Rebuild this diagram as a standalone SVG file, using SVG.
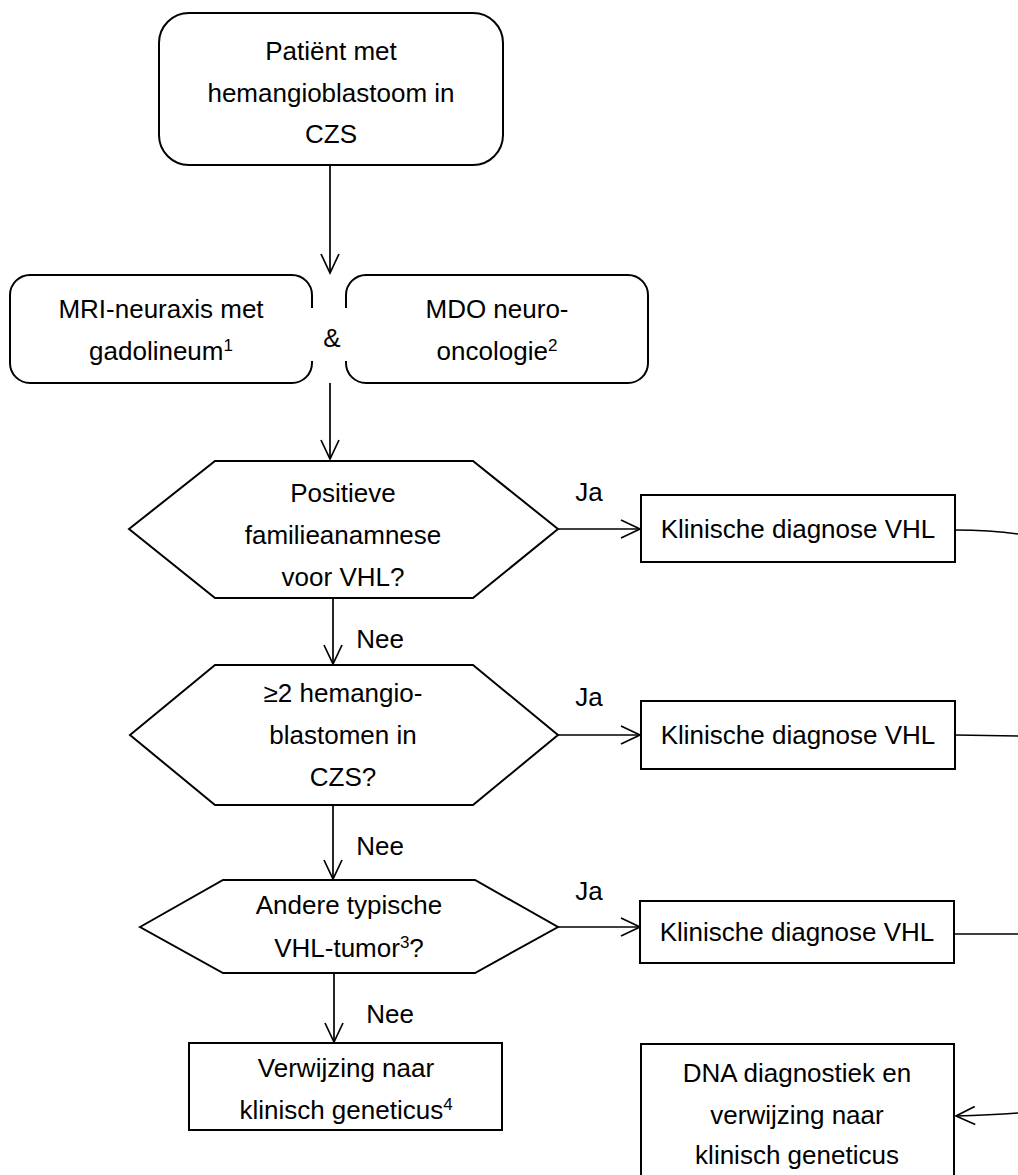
<svg xmlns="http://www.w3.org/2000/svg" width="1018" height="1175" viewBox="0 0 1018 1175">
<style>
text{font-family:"Liberation Sans",Arial,sans-serif;font-size:26px;fill:#000;text-anchor:middle}
.b{fill:#fff;stroke:#000;stroke-width:2}
.c{fill:none;stroke:#000;stroke-width:1.7}
.sup{font-size:17px}
</style>
<defs>
<marker id="ah" viewBox="0 0 24 24" refX="22" refY="12" markerWidth="24" markerHeight="24" markerUnits="userSpaceOnUse" orient="auto">
<path d="M3,3 L22,12 L3,21" fill="none" stroke="#000" stroke-width="1.7"/>
</marker>
</defs>
<rect width="1018" height="1175" fill="#fff"/>
<g id="connectors">
<line class="c" x1="330" y1="165" x2="330" y2="273" marker-end="url(#ah)"/>
<line class="c" x1="330" y1="383" x2="330" y2="459" marker-end="url(#ah)"/>
<line class="c" x1="558" y1="529" x2="640" y2="529" marker-end="url(#ah)"/>
<line class="c" x1="333" y1="598" x2="333" y2="664" marker-end="url(#ah)"/>
<line class="c" x1="558" y1="735" x2="640" y2="735" marker-end="url(#ah)"/>
<line class="c" x1="333" y1="805" x2="333" y2="879" marker-end="url(#ah)"/>
<line class="c" x1="558" y1="927" x2="640" y2="927" marker-end="url(#ah)"/>
<line class="c" x1="334" y1="973" x2="334" y2="1042" marker-end="url(#ah)"/>
<path class="c" d="M955,530 Q990,530 1018,534"/>
<line class="c" x1="955" y1="735" x2="1018" y2="736"/>
<line class="c" x1="954" y1="934" x2="1018" y2="934"/>
<path class="c" d="M1018,1113 Q990,1115 956,1116" marker-end="url(#ah)"/>
<text x="589" y="501">Ja</text>
<text x="589" y="706">Ja</text>
<text x="589" y="900">Ja</text>
<text x="380" y="648">Nee</text>
<text x="380" y="855">Nee</text>
<text x="390" y="1023">Nee</text>
</g>
<g id="start">
<rect class="b" x="159" y="13" width="344" height="152" rx="30"/>
<text x="331" y="60">Patiënt met</text>
<text x="331" y="102">hemangioblastoom in</text>
<text x="331" y="143">CZS</text>
</g>
<g id="mri">
<path class="b" d="M312,308 L312,295 A20,20 0 0 0 292,275 L30,275 A20,20 0 0 0 10,295 L10,363 A20,20 0 0 0 30,383 L292,383 A20,20 0 0 0 312,363 L312,361" fill="none"/>
<text x="161" y="318">MRI-neuraxis met</text>
<text x="161" y="360">gadolineum<tspan class="sup" dy="-9">1</tspan></text>
</g>
<text id="and" x="332" y="347">&amp;</text>
<g id="mdo">
<path class="b" d="M346,308 L346,295 A20,20 0 0 1 366,275 L628,275 A20,20 0 0 1 648,295 L648,363 A20,20 0 0 1 628,383 L366,383 A20,20 0 0 1 346,363 L346,361" fill="none"/>
<text x="497" y="318">MDO neuro-</text>
<text x="497" y="360">oncologie<tspan class="sup" dy="-9">2</tspan></text>
</g>
<g id="q1">
<polygon class="b" points="129,529 215,461 473,461 558,529 473,598 215,598"/>
<text x="343" y="502">Positieve</text>
<text x="343" y="544">familieanamnese</text>
<text x="343" y="586">voor VHL?</text>
</g>
<g id="d1">
<rect class="b" x="641" y="495" width="314" height="67"/>
<text x="798" y="538">Klinische diagnose VHL</text>
</g>
<g id="q2">
<polygon class="b" points="130,735 215,665 473,665 558,735 473,805 215,805"/>
<text x="343" y="702">≥2 hemangio-</text>
<text x="343" y="744">blastomen in</text>
<text x="343" y="786">CZS?</text>
</g>
<g id="d2">
<rect class="b" x="641" y="701" width="314" height="68"/>
<text x="798" y="744">Klinische diagnose VHL</text>
</g>
<g id="q3">
<polygon class="b" points="140,927 223,880 475,880 558,927 475,973 223,973"/>
<text x="349" y="914">Andere typische</text>
<text x="349" y="957">VHL-tumor<tspan class="sup" dy="-9">3</tspan><tspan dy="9">?</tspan></text>
</g>
<g id="d3">
<rect class="b" x="640" y="901" width="314" height="62"/>
<text x="797" y="941">Klinische diagnose VHL</text>
</g>
<g id="ref">
<rect class="b" x="189" y="1043" width="313" height="87"/>
<text x="346" y="1077">Verwijzing naar</text>
<text x="346" y="1119">klinisch geneticus<tspan class="sup" dy="-9">4</tspan></text>
</g>
<g id="dna">
<rect class="b" x="641" y="1044" width="313" height="140"/>
<text x="797" y="1082">DNA diagnostiek en</text>
<text x="797" y="1124">verwijzing naar</text>
<text x="797" y="1164">klinisch geneticus</text>
</g>
</svg>
